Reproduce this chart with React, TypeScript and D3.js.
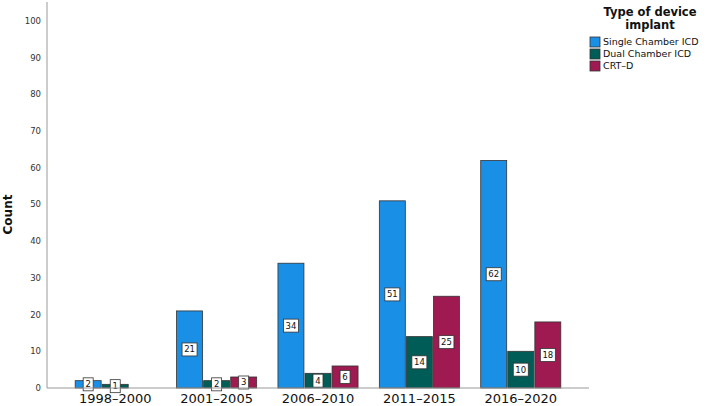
import { useEffect, useRef } from "react";
import * as d3 from "d3";

const periods = ["1998–2000", "2001–2005", "2006–2010", "2011–2015", "2016–2020"];
const deviceTypes = ["Single Chamber ICD", "Dual Chamber ICD", "CRT–D"];
const singleChamber = [2, 21, 34, 51, 62];
const dualChamber = [1, 2, 4, 14, 10];
const crtD = [0, 3, 6, 25, 18];
const yTicks = [0, 10, 20, 30, 40, 50, 60, 70, 80, 90, 100];

const COLORS = ["#1a8fe6", "#005c56", "#9f1a50"];
const W = 710;
const H = 406;
const FONT = "'Lucida Grande', 'DejaVu Sans', sans-serif";

export default function App() {
  const svgRef = useRef<SVGSVGElement | null>(null);

  useEffect(() => {
    const svgEl = svgRef.current;
    if (!svgEl) return;
    const svg = d3.select(svgEl);
    svg.selectAll("*").remove();

    const series = [singleChamber, dualChamber, crtD];

    const x0 = d3.scaleBand<string>().domain(periods).range([47, 589]).paddingInner(0.21).paddingOuter(0.278);
    const x1 = d3
      .scaleBand<number>()
      .domain(d3.range(deviceTypes.length))
      .range([0, x0.bandwidth()])
      .paddingInner(0.04);
    const y = d3.scaleLinear().domain([0, 100]).range([388, 21]);

    // y tick labels
    svg
      .append("g")
      .selectAll("text")
      .data(yTicks)
      .enter()
      .append("text")
      .attr("x", 41)
      .attr("y", (d) => y(d))
      .attr("dy", "0.35em")
      .attr("text-anchor", "end")
      .attr("font-size", 8.5)
      .attr("font-family", FONT)
      .attr("fill", "#333")
      .text((d) => d);

    svg
      .append("text")
      .attr("transform", `translate(12, ${y(50) + 10}) rotate(-90)`)
      .attr("text-anchor", "middle")
      .attr("font-size", 12)
      .attr("font-weight", 700)
      .attr("font-family", FONT)
      .attr("fill", "#111")
      .text("Count");

    // bars
    const rows = periods.flatMap((p, i) => series.map((s, k) => ({ period: p, k, value: s[i] })));

    svg
      .append("g")
      .selectAll("rect")
      .data(rows)
      .enter()
      .append("rect")
      .attr("x", (d) => (x0(d.period) ?? 0) + (x1(d.k) ?? 0))
      .attr("width", x1.bandwidth())
      .attr("y", (d) => y(d.value))
      .attr("height", (d) => y(0) - y(d.value))
      .attr("fill", (d) => COLORS[d.k])
      .attr("stroke", "#333")
      .attr("stroke-width", 0.8);

    // value labels
    const labels = svg
      .append("g")
      .selectAll("g")
      .data(rows.filter((d) => d.value > 0))
      .enter()
      .append("g")
      .attr("transform", (d) => {
        const cx = (x0(d.period) ?? 0) + (x1(d.k) ?? 0) + x1.bandwidth() / 2;
        const cy = (y(0) + y(d.value)) / 2;
        return `translate(${cx}, ${cy})`;
      });

    labels
      .append("rect")
      .attr("x", (d) => (String(d.value).length > 1 ? -7.5 : -5))
      .attr("width", (d) => (String(d.value).length > 1 ? 15 : 10))
      .attr("y", -6.5)
      .attr("height", 13)
      .attr("fill", "#fff")
      .attr("stroke", "#333")
      .attr("stroke-width", 0.8);

    labels
      .append("text")
      .attr("text-anchor", "middle")
      .attr("dy", "0.35em")
      .attr("font-size", 8.5)
      .attr("font-family", FONT)
      .attr("fill", "#111")
      .text((d) => d.value);

    // axes
    svg
      .append("line")
      .attr("x1", 47)
      .attr("x2", 47)
      .attr("y1", 2)
      .attr("y2", y(0))
      .attr("stroke", "#999")
      .attr("stroke-width", 1);
    svg
      .append("line")
      .attr("x1", 47)
      .attr("x2", 589)
      .attr("y1", y(0))
      .attr("y2", y(0))
      .attr("stroke", "#999")
      .attr("stroke-width", 1);

    svg
      .append("g")
      .selectAll("text")
      .data(periods)
      .enter()
      .append("text")
      .attr("x", (d) => (x0(d) ?? 0) + x0.bandwidth() / 2)
      .attr("y", 403)
      .attr("text-anchor", "middle")
      .attr("font-size", 13)
      .attr("font-family", FONT)
      .attr("fill", "#111")
      .text((d) => d);

    // legend
    const legend = svg.append("g");
    ["Type of device", "implant"].forEach((t, i) => {
      legend
        .append("text")
        .attr("x", 650)
        .attr("y", 16 + i * 13)
        .attr("text-anchor", "middle")
        .attr("font-size", 11.5)
        .attr("font-weight", 700)
        .attr("font-family", FONT)
        .attr("fill", "#111")
        .text(t);
    });
    const items = legend
      .selectAll("g.item")
      .data(deviceTypes)
      .enter()
      .append("g")
      .attr("class", "item")
      .attr("transform", (_d, i) => `translate(590, ${37 + i * 12})`);
    items
      .append("rect")
      .attr("width", 10)
      .attr("height", 10)
      .attr("fill", (_d, i) => COLORS[i])
      .attr("stroke", "#333")
      .attr("stroke-width", 0.8);
    items
      .append("text")
      .attr("x", 13)
      .attr("y", 5)
      .attr("dy", "0.35em")
      .attr("font-size", 9.5)
      .attr("font-family", FONT)
      .attr("fill", "#111")
      .text((d) => d);
  }, []);

  return (
    <svg
      ref={svgRef}
      width={W}
      height={H}
      style={{ position: "absolute", left: 0, top: 0, background: "#fff" }}
    />
  );
}
